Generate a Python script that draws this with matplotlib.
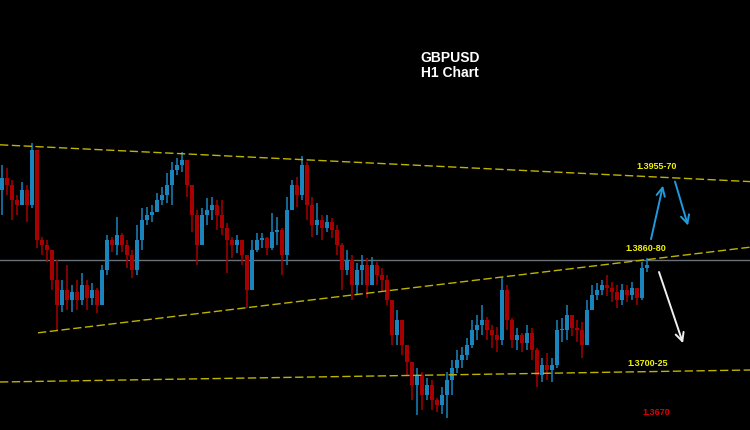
import matplotlib
matplotlib.use("Agg")
import matplotlib.pyplot as plt
import numpy as np

# ---------------- data ----------------
first_open = 1.3948
close = [1.3963, 1.3954, 1.3935, 1.3929, 1.3948, 1.3929, 1.3998, 1.3885, 1.3879, 1.3873,
         1.3835, 1.3804, 1.3823, 1.3810, 1.3820, 1.3810, 1.3829, 1.3813, 1.3823, 1.3804,
         1.3848, 1.3885, 1.3879, 1.3891, 1.3879, 1.3866, 1.3848, 1.3885, 1.3910, 1.3916,
         1.3920, 1.3935, 1.3941, 1.3954, 1.3973, 1.3979, 1.3985, 1.3954, 1.3916, 1.3879,
         1.3916, 1.3923, 1.3929, 1.3916, 1.3900, 1.3885, 1.3879, 1.3885, 1.3866, 1.3823,
         1.3873, 1.3885, 1.3888, 1.3875, 1.3895, 1.3898, 1.3866, 1.3923, 1.3954, 1.3941,
         1.3979, 1.3929, 1.3904, 1.3910, 1.3900, 1.3908, 1.3898, 1.3879, 1.3848, 1.3860,
         1.3829, 1.3848, 1.3854, 1.3829, 1.3854, 1.3841, 1.3835, 1.3810, 1.3766, 1.3785,
         1.3754, 1.3733, 1.3704, 1.3716, 1.3691, 1.3704, 1.3685, 1.3679, 1.3691, 1.3710,
         1.3725, 1.3735, 1.3741, 1.3754, 1.3773, 1.3779, 1.3785, 1.3773, 1.3766, 1.3760,
         1.3823, 1.3785, 1.3760, 1.3766, 1.3756, 1.3769, 1.3748, 1.3716, 1.3729, 1.3723,
         1.3729, 1.3773, 1.3773, 1.3791, 1.3775, 1.3773, 1.3754, 1.3798, 1.3816, 1.3823,
         1.3829, 1.3825, 1.3820, 1.3810, 1.3823, 1.3816, 1.3825, 1.3813, 1.3850, 1.3854]

high = [1.3979, 1.3975, 1.3960, 1.3941, 1.3958, 1.3954, 1.4006, 1.3998, 1.3889, 1.3885,
        1.3873, 1.3860, 1.3835, 1.3854, 1.3829, 1.3835, 1.3844, 1.3835, 1.3831, 1.3825,
        1.3854, 1.3891, 1.3889, 1.3914, 1.3894, 1.3885, 1.3873, 1.3904, 1.3925, 1.3926,
        1.3929, 1.3944, 1.3951, 1.3969, 1.3983, 1.3988, 1.3995, 1.3979, 1.3941, 1.3923,
        1.3925, 1.3938, 1.3939, 1.3935, 1.3935, 1.3906, 1.3889, 1.3891, 1.3881, 1.3864,
        1.3885, 1.3894, 1.3894, 1.3889, 1.3919, 1.3914, 1.3900, 1.3939, 1.3960, 1.3964,
        1.3990, 1.3983, 1.3939, 1.3931, 1.3916, 1.3916, 1.3913, 1.3904, 1.3881, 1.3873,
        1.3866, 1.3856, 1.3866, 1.3863, 1.3864, 1.3858, 1.3850, 1.3841, 1.3810, 1.3798,
        1.3785, 1.3754, 1.3733, 1.3725, 1.3720, 1.3713, 1.3710, 1.3688, 1.3701, 1.3720,
        1.3735, 1.3748, 1.3751, 1.3763, 1.3785, 1.3791, 1.3804, 1.3789, 1.3779, 1.3776,
        1.3839, 1.3829, 1.3788, 1.3775, 1.3769, 1.3779, 1.3775, 1.3750, 1.3738, 1.3744,
        1.3738, 1.3785, 1.3788, 1.3804, 1.3788, 1.3785, 1.3783, 1.3810, 1.3829, 1.3831,
        1.3835, 1.3841, 1.3833, 1.3829, 1.3830, 1.3829, 1.3833, 1.3825, 1.3858, 1.3863]

low = [1.3916, 1.3941, 1.3910, 1.3916, 1.3935, 1.3908, 1.3925, 1.3875, 1.3866, 1.3858,
       1.3823, 1.3773, 1.3795, 1.3798, 1.3795, 1.3798, 1.3804, 1.3798, 1.3804, 1.3794,
       1.3810, 1.3841, 1.3870, 1.3866, 1.3870, 1.3850, 1.3838, 1.3841, 1.3873, 1.3904,
       1.3908, 1.3920, 1.3929, 1.3931, 1.3929, 1.3966, 1.3970, 1.3939, 1.3895, 1.3854,
       1.3885, 1.3904, 1.3910, 1.3898, 1.3891, 1.3844, 1.3863, 1.3869, 1.3854, 1.3800,
       1.3829, 1.3870, 1.3875, 1.3866, 1.3873, 1.3879, 1.3841, 1.3854, 1.3935, 1.3926,
       1.3935, 1.3910, 1.3889, 1.3891, 1.3885, 1.3895, 1.3888, 1.3866, 1.3823, 1.3841,
       1.3810, 1.3816, 1.3829, 1.3813, 1.3838, 1.3829, 1.3820, 1.3804, 1.3754, 1.3754,
       1.3741, 1.3716, 1.3685, 1.3666, 1.3673, 1.3685, 1.3673, 1.3670, 1.3668, 1.3663,
       1.3691, 1.3719, 1.3725, 1.3735, 1.3750, 1.3760, 1.3766, 1.3760, 1.3750, 1.3745,
       1.3754, 1.3773, 1.3750, 1.3748, 1.3745, 1.3748, 1.3735, 1.3701, 1.3708, 1.3710,
       1.3708, 1.3725, 1.3758, 1.3760, 1.3765, 1.3758, 1.3738, 1.3754, 1.3798, 1.3810,
       1.3816, 1.3815, 1.3808, 1.3800, 1.3804, 1.3808, 1.3810, 1.3804, 1.3810, 1.3845]

# trend lines (candle index, price)
resist_x = [-0.4, 149.6]
resist_y = [1.4004, 1.3958]
support_x = [7.2, 149.6]
support_y = [1.3769, 1.3876]
base_x = [-0.4, 149.6]
base_y = [1.37075, 1.37225]
pivot_level = 1.3860

level_labels = ["1.3955-70", "1.3860-80", "1.3700-25", "1.3670"]
level_label_x = [131.0, 128.8, 129.2, 130.8]
level_label_y = [1.3977, 1.3874, 1.3731, 1.3669]
level_label_colors = ["#f2f200", "#f2f200", "#f2f200", "#e00000"]

# arrows: (start_x, start_y, end_x, end_y)
arrow_start_x = [129.8, 134.6, 131.4]
arrow_start_y = [1.3886, 1.3958, 1.3845]
arrow_end_x = [132.2, 137.2, 136.2]
arrow_end_y = [1.3953, 1.3903, 1.3756]
arrow_colors = ["#1e9be0", "#1e9be0", "#f0f0f0"]

title_lines = ["GBPUSD", "H1 Chart"]

# ---------------- plot ----------------
fig = plt.figure(figsize=(7.5, 4.3), dpi=100, facecolor="black")
ax = fig.add_axes([0, 0, 1, 1])
ax.set_facecolor("black")
ax.set_axis_off()

c = np.array(close)
o = np.array([first_open] + close[:-1])
h = np.maximum(np.array(high), np.maximum(o, c))
l = np.minimum(np.array(low), np.minimum(o, c))
x = np.arange(len(c))
up = c >= o
cols = np.where(up, "#1a84bc", "#a80000")

ax.vlines(x, l, h, colors=cols, lw=1.1, zorder=3)
body = np.maximum(np.abs(c - o), 0.00008)
ax.bar(x, body, bottom=np.minimum(o, c), width=0.72, color=cols, linewidth=0, zorder=3)

ax.axhline(pivot_level, color="#6a7078", lw=1.0, zorder=2)
ls = (0, (6, 2.5))
ax.plot(resist_x, resist_y, color="#bdb400", lw=1.0, ls=ls, zorder=4)
ax.plot(support_x, support_y, color="#bdb400", lw=1.0, ls=ls, zorder=4)
ax.plot(base_x, base_y, color="#bdb400", lw=1.0, ls=ls, zorder=4)

for t, tx, ty, tc in zip(level_labels, level_label_x, level_label_y, level_label_colors):
    ax.text(tx, ty, t, color=tc, fontsize=6.5, fontweight="bold",
            family="Liberation Sans", ha="center", va="center", zorder=5)

for sx, sy, ex, ey, ac in zip(arrow_start_x, arrow_start_y, arrow_end_x, arrow_end_y, arrow_colors):
    ax.annotate("", xy=(ex, ey), xytext=(sx, sy),
                arrowprops=dict(arrowstyle="->", color=ac, lw=1.4,
                                mutation_scale=15, shrinkA=0, shrinkB=0),
                zorder=5)

ax.text(0.6, 0.866, title_lines[0], transform=ax.transAxes, color="white",
        fontsize=10, fontweight="bold", family="Liberation Sans", ha="center", va="center")
ax.text(0.6, 0.830, title_lines[1], transform=ax.transAxes, color="white",
        fontsize=10, fontweight="bold", family="Liberation Sans", ha="center", va="center")

ax.set_xlim(-0.4, 149.6)
ax.set_ylim(1.36475, 1.4185)

fig.savefig("out.png", dpi=100, facecolor="black")
